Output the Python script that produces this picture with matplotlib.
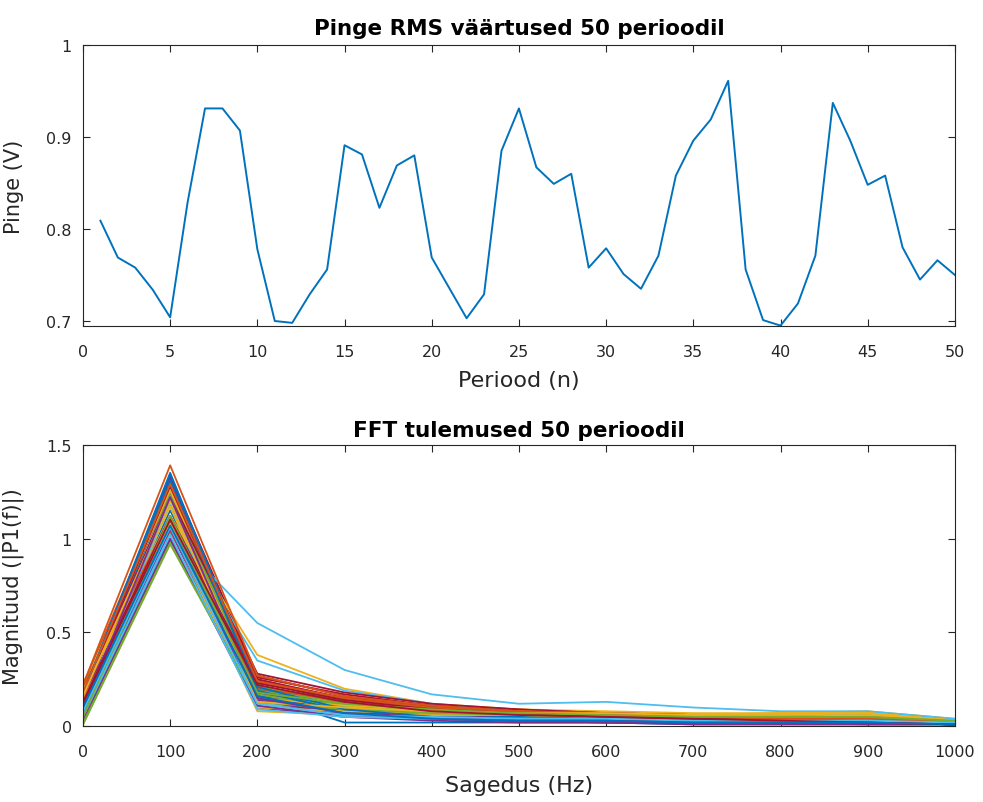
import matplotlib
matplotlib.use('Agg')
import matplotlib.pyplot as plt

plt.rcParams['font.family'] = ['DejaVu Sans']

# RMS voltage per period
periods = list(range(1, 51))
rms = [0.809, 0.769, 0.758, 0.734, 0.704, 0.829, 0.931, 0.931, 0.907, 0.778,
       0.700, 0.698, 0.729, 0.756, 0.891, 0.881, 0.823, 0.869, 0.880, 0.769,
       0.736, 0.703, 0.729, 0.885, 0.931, 0.867, 0.849, 0.860, 0.758, 0.779,
       0.751, 0.735, 0.771, 0.858, 0.896, 0.919, 0.961, 0.756, 0.701, 0.695,
       0.719, 0.771, 0.937, 0.896, 0.848, 0.858, 0.780, 0.745, 0.766, 0.750]

# FFT magnitude per period, frequencies 0..1000 Hz
freqs = [0, 100, 200, 300, 400, 500, 600, 700, 800, 900, 1000]
fft_mag = [
    [0.12, 1.15, 0.18, 0.08, 0.06, 0.05, 0.04, 0.03, 0.03, 0.02, 0.01],
    [0.20, 1.10, 0.22, 0.12, 0.08, 0.06, 0.05, 0.05, 0.04, 0.04, 0.02],
    [0.15, 1.07, 0.14, 0.10, 0.07, 0.07, 0.06, 0.05, 0.05, 0.06, 0.03],
    [0.05, 1.04, 0.12, 0.07, 0.05, 0.03, 0.03, 0.02, 0.02, 0.02, 0.01],
    [0.02, 0.99, 0.16, 0.11, 0.08, 0.06, 0.05, 0.05, 0.06, 0.05, 0.03],
    [0.08, 1.18, 0.20, 0.09, 0.06, 0.05, 0.04, 0.04, 0.04, 0.03, 0.02],
    [0.18, 1.33, 0.27, 0.16, 0.10, 0.08, 0.06, 0.05, 0.04, 0.03, 0.02],
    [0.16, 1.34, 0.22, 0.10, 0.05, 0.04, 0.03, 0.03, 0.02, 0.02, 0.01],
    [0.22, 1.30, 0.25, 0.14, 0.09, 0.07, 0.06, 0.05, 0.05, 0.04, 0.02],
    [0.21, 1.12, 0.38, 0.20, 0.12, 0.09, 0.08, 0.07, 0.07, 0.08, 0.04],
    [0.03, 1.00, 0.10, 0.05, 0.04, 0.03, 0.02, 0.02, 0.02, 0.02, 0.01],
    [0.01, 0.98, 0.14, 0.12, 0.09, 0.07, 0.06, 0.06, 0.05, 0.05, 0.03],
    [0.06, 1.03, 0.55, 0.30, 0.17, 0.12, 0.13, 0.10, 0.08, 0.08, 0.04],
    [0.14, 1.09, 0.24, 0.13, 0.09, 0.07, 0.05, 0.04, 0.03, 0.03, 0.01],
    [0.13, 1.27, 0.20, 0.09, 0.06, 0.05, 0.04, 0.03, 0.03, 0.03, 0.02],
    [0.19, 1.26, 0.23, 0.15, 0.11, 0.09, 0.07, 0.06, 0.05, 0.05, 0.03],
    [0.17, 1.17, 0.12, 0.09, 0.08, 0.07, 0.07, 0.06, 0.06, 0.07, 0.03],
    [0.10, 1.24, 0.16, 0.08, 0.06, 0.04, 0.03, 0.03, 0.02, 0.02, 0.01],
    [0.06, 1.25, 0.19, 0.13, 0.09, 0.07, 0.06, 0.05, 0.05, 0.06, 0.03],
    [0.10, 1.10, 0.35, 0.19, 0.12, 0.08, 0.07, 0.06, 0.06, 0.07, 0.03],
    [0.15, 1.05, 0.26, 0.17, 0.11, 0.08, 0.06, 0.04, 0.03, 0.02, 0.01],
    [0.09, 1.00, 0.17, 0.02, 0.02, 0.02, 0.02, 0.01, 0.01, 0.01, 0.01],
    [0.23, 1.04, 0.21, 0.13, 0.09, 0.08, 0.07, 0.06, 0.05, 0.04, 0.02],
    [0.20, 1.26, 0.15, 0.11, 0.09, 0.08, 0.06, 0.06, 0.07, 0.07, 0.03],
    [0.12, 1.32, 0.18, 0.09, 0.05, 0.04, 0.03, 0.02, 0.02, 0.02, 0.01],
    [0.04, 1.23, 0.21, 0.14, 0.10, 0.07, 0.06, 0.06, 0.06, 0.05, 0.03],
    [0.07, 1.21, 0.13, 0.07, 0.05, 0.04, 0.04, 0.03, 0.03, 0.03, 0.02],
    [0.16, 1.22, 0.28, 0.18, 0.12, 0.09, 0.07, 0.05, 0.04, 0.03, 0.02],
    [0.11, 1.08, 0.15, 0.07, 0.04, 0.03, 0.03, 0.02, 0.02, 0.02, 0.01],
    [0.21, 1.11, 0.20, 0.14, 0.10, 0.08, 0.07, 0.06, 0.05, 0.04, 0.02],
    [0.14, 1.06, 0.08, 0.06, 0.06, 0.06, 0.05, 0.05, 0.05, 0.06, 0.03],
    [0.08, 1.05, 0.14, 0.06, 0.04, 0.03, 0.02, 0.02, 0.02, 0.01, 0.01],
    [0.03, 1.10, 0.17, 0.10, 0.08, 0.06, 0.05, 0.05, 0.05, 0.05, 0.02],
    [0.09, 1.22, 0.11, 0.06, 0.05, 0.04, 0.04, 0.03, 0.03, 0.04, 0.02],
    [0.17, 1.28, 0.25, 0.15, 0.10, 0.07, 0.06, 0.05, 0.04, 0.03, 0.01],
    [0.18, 1.31, 0.19, 0.08, 0.04, 0.03, 0.03, 0.02, 0.02, 0.02, 0.01],
    [0.22, 1.39, 0.27, 0.16, 0.11, 0.08, 0.07, 0.06, 0.05, 0.04, 0.02],
    [0.19, 1.08, 0.10, 0.08, 0.07, 0.06, 0.06, 0.06, 0.06, 0.07, 0.03],
    [0.04, 1.00, 0.11, 0.05, 0.03, 0.02, 0.02, 0.01, 0.01, 0.01, 0.01],
    [0.01, 0.97, 0.13, 0.09, 0.07, 0.06, 0.05, 0.05, 0.05, 0.04, 0.02],
    [0.05, 1.02, 0.09, 0.05, 0.04, 0.04, 0.03, 0.03, 0.03, 0.03, 0.02],
    [0.13, 1.12, 0.23, 0.14, 0.09, 0.07, 0.05, 0.04, 0.03, 0.02, 0.01],
    [0.17, 1.35, 0.21, 0.09, 0.05, 0.04, 0.03, 0.03, 0.03, 0.02, 0.02],
    [0.18, 1.29, 0.24, 0.15, 0.10, 0.08, 0.06, 0.05, 0.04, 0.04, 0.02],
    [0.16, 1.20, 0.13, 0.10, 0.08, 0.07, 0.07, 0.06, 0.07, 0.07, 0.03],
    [0.09, 1.22, 0.15, 0.07, 0.05, 0.04, 0.03, 0.02, 0.02, 0.02, 0.01],
    [0.05, 1.12, 0.18, 0.12, 0.09, 0.07, 0.06, 0.05, 0.05, 0.05, 0.03],
    [0.08, 1.06, 0.12, 0.06, 0.05, 0.04, 0.04, 0.03, 0.03, 0.03, 0.02],
    [0.12, 1.10, 0.22, 0.13, 0.08, 0.06, 0.05, 0.04, 0.03, 0.02, 0.01],
    [0.10, 1.07, 0.16, 0.07, 0.04, 0.03, 0.03, 0.02, 0.02, 0.02, 0.01],
]

# MATLAB default line colours
matlab_colors = ['#0072BD', '#D95319', '#EDB120', '#7E2F8E',
                 '#77AC30', '#4DBEEE', '#A2142F']

fig = plt.figure(figsize=(9.83, 8.03), dpi=100)
ax1 = fig.add_axes([0.0844, 0.5928, 0.887, 0.35])
ax2 = fig.add_axes([0.0844, 0.0943, 0.887, 0.3507])


def style_axes(ax):
    for s in ax.spines.values():
        s.set_color('#262626')
        s.set_linewidth(0.8)
    ax.tick_params(direction='in', length=5, width=0.8, colors='#262626',
                   labelsize=11.5, top=True, right=True)
    ax.tick_params(axis='x', pad=13)
    ax.tick_params(axis='y', pad=8)


ax1.plot(periods, rms, color='#0072BD', linewidth=1.4)
ax1.set_xlim(0, 50)
ax1.set_ylim(0.6946, 1.0)
ax1.set_xticks(range(0, 51, 5))
ax1.set_yticks([0.7, 0.8, 0.9, 1.0])
ax1.set_yticklabels(['0.7', '0.8', '0.9', '1'])
ax1.set_title('Pinge RMS väärtused 50 perioodil', fontsize=15.5,
              fontweight='bold', pad=8)
ax1.set_xlabel('Periood (n)', fontsize=16, color='#262626', labelpad=8)
ax1.set_ylabel('Pinge (V)', fontsize=15, color='#262626', labelpad=16)
style_axes(ax1)

for i, row in enumerate(fft_mag):
    ax2.plot(freqs, row, color=matlab_colors[i % 7], linewidth=1.3)
ax2.set_xlim(0, 1000)
ax2.set_ylim(0, 1.5)
ax2.set_xticks(range(0, 1001, 100))
ax2.set_yticks([0, 0.5, 1, 1.5])
ax2.set_yticklabels(['0', '0.5', '1', '1.5'])
ax2.set_title('FFT tulemused 50 perioodil', fontsize=15.5,
              fontweight='bold', pad=6)
ax2.set_xlabel('Sagedus (Hz)', fontsize=16, color='#262626', labelpad=11)
ax2.set_ylabel('Magnituud (|P1(f)|)', fontsize=15, color='#262626',
               labelpad=16)
style_axes(ax2)

fig.savefig('out.png', dpi=100)
